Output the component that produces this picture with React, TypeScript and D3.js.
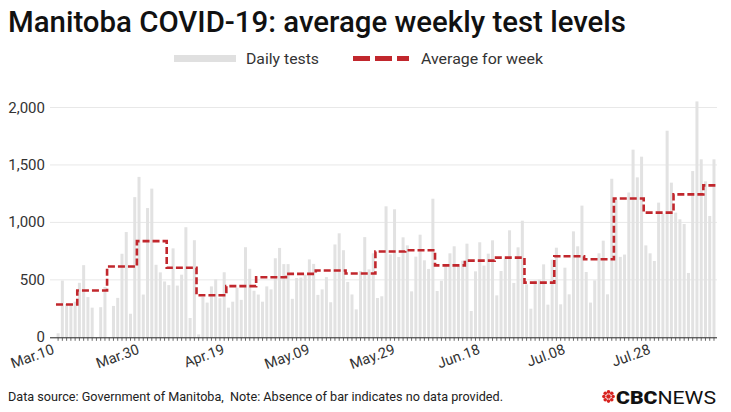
import React from "react";
import * as d3 from "d3";

// Daily tests from Mar 10 (index 0) to Aug 11 (index 154); null = no data provided
const dailyTests: (number | null)[] = [
  35, 494, 290, 290, 310, 474, 628, 350, 258, null, 262, 437, null, 273, 343,
  727, 916, 205, 1220, 1396, 372, 1125, 1294, 631, 565, 486, 454, 774, 450, 545,
  958, 168, 845, 25, 352, 302, 443, 504, 340, 566, 258, 310, 432, 326, 784,
  596, 405, 372, 310, 443, 417, 688, 778, 637, 637, 335, 516, 520, 545, 678,
  639, 369, 417, 524, 305, 808, 905, 758, 482, 373, 243, 577, 872, 591, 731,
  342, 357, 1140, 722, 1114, 699, 870, 800, 400, 702, 893, 670, 595, 1206, 403,
  493, 621, 731, 792, 621, 667, 815, 229, 574, 827, 624, 728, 844, 365, 577,
  684, 931, 473, 783, 1015, 461, 249, 496, 502, 635, 284, 676, 780, 287, 606,
  374, 922, 792, 1146, 568, 302, 496, 731, 841, 374, 1380, 1200, 700, 720, 1260,
  1633, 1392, 1572, 800, 731, 664, 1172, 1076, 1798, 1346, 1085, 1027, 986, 560, 1447,
  2053, 1549, 1357, 1056, 1549,
];

// Weekly averages (Sunday–Saturday weeks); first week is Mar 10–14
const weekStartIdx: number[] = [0, 5, 12, 19, 26, 33, 40, 47, 54, 61, 68, 75, 82, 89, 96, 103, 110, 117, 124, 131, 138, 145, 152];
const weeklyAverage: number[] = [285, 407, 616, 837, 605, 366, 445, 523, 552, 581, 555, 747, 757, 626, 667, 693, 476, 705, 679, 1208, 1085, 1244, 1322];

const xTickIdx: number[] = [0, 20, 40, 60, 80, 100, 120, 140];
const xTickLabels: string[] = ["Mar.10", "Mar.30", "Apr.19", "May.09", "May.29", "Jun.18", "Jul.08", "Jul.28"];
const yTicks: number[] = [0, 500, 1000, 1500, 2000];

const FONT = "Roboto, 'Noto Sans', sans-serif";
const W = 731;
const H = 412;

export default function App() {
  const n = dailyTests.length;
  const x = d3.scaleLinear().domain([0, n - 1]).range([58.1, 58.1 + (n - 1) * 4.259]);
  const y = d3.scaleLinear().domain([0, 2000]).range([337.3, 107.5]);
  const barW = 3;
  const axisX0 = 50;
  const axisX1 = 717;

  const stepPts: [number, number][] = weekStartIdx.map((s, i) => [s - 0.5, weeklyAverage[i]]);
  stepPts.push([n - 0.5, weeklyAverage[weeklyAverage.length - 1]]);
  const stepLine = d3
    .line<[number, number]>()
    .x((d) => x(d[0]))
    .y((d) => y(d[1]))
    .curve(d3.curveStepAfter);

  const fmt = d3.format(",");

  return (
    <svg width={W} height={H} style={{ position: "absolute", left: 0, top: 0, background: "#fff" }} fontFamily={FONT}>
      <rect x={0} y={0} width={W} height={H} fill="#fff" />
      <text x={8} y={32} fontSize={29} fontWeight={500} fill="#111" textLength={618} lengthAdjust="spacingAndGlyphs">
        Manitoba COVID-19: average weekly test levels
      </text>

      {/* legend */}
      <rect x={174} y={55} width={62} height={7} fill="#e0e0e0" />
      <text x={246} y={63.5} fontSize={15} fill="#333" textLength={73} lengthAdjust="spacingAndGlyphs">Daily tests</text>
      <line x1={353} x2={409} y1={58.5} y2={58.5} stroke="#c1272d" strokeWidth={5} strokeDasharray="17,5" />
      <text x={421} y={63.5} fontSize={15} fill="#333" textLength={122} lengthAdjust="spacingAndGlyphs">Average for week</text>

      {/* grid */}
      {yTicks.filter((t) => t > 0).map((t) => (
        <line key={t} x1={axisX0} x2={axisX1} y1={y(t)} y2={y(t)} stroke="#e8e8e8" strokeWidth={1} />
      ))}
      {yTicks.map((t) => (
        <text key={"yl" + t} x={45} y={y(t) + 5} fontSize={15} fill="#333" textAnchor="end">
          {fmt(t)}
        </text>
      ))}

      {/* bars */}
      {dailyTests.map((v, i) =>
        v == null ? null : (
          <rect key={i} x={x(i) - barW / 2} y={y(v)} width={barW} height={y(0) - y(v)} fill="#e2e2e2" />
        )
      )}

      {/* weekly average step line */}
      <path d={stepLine(stepPts) || ""} fill="none" stroke="#c1272d" strokeWidth={2.6} strokeDasharray="7,3" />

      {/* x axis */}
      <line x1={axisX0} x2={axisX1} y1={y(0) + 0.5} y2={y(0) + 0.5} stroke="#222" strokeWidth={1} />
      {dailyTests.map((_, i) => (
        <line key={"t" + i} x1={x(i)} x2={x(i)} y1={y(0) + 0.5} y2={y(0) + 3.5} stroke="#444" strokeWidth={0.8} />
      ))}
      {xTickIdx.map((idx, i) => (
        <text
          key={"xl" + idx}
          transform={`translate(${x(idx) - 3},${y(0) + 16}) rotate(-20)`}
          fontSize={14.5}
          fill="#333"
          textAnchor="end"
        >
          {xTickLabels[i]}
        </text>
      ))}

      {/* footer */}
      <text x={8} y={401} fontSize={13.5} fill="#222" textLength={495} lengthAdjust="spacingAndGlyphs">
        {"Data source: Government of Manitoba,\u00A0 Note: Absence of bar indicates no data provided."}
      </text>
      <g transform="translate(608.5,396.5)" fill="#d8231f">
        <circle r={2.3} />
        {d3.range(8).map((k) => {
          const a = (k * Math.PI) / 4;
          return <circle key={k} cx={Math.cos(a) * 4.6} cy={Math.sin(a) * 4.6} r={1.8} />;
        })}
      </g>
      <text x={616} y={403.5} fontSize={19} fill="#111" textLength={100} lengthAdjust="spacingAndGlyphs">
        <tspan fontWeight={900}>CBC</tspan>
        <tspan fontWeight={400}>NEWS</tspan>
      </text>
    </svg>
  );
}
